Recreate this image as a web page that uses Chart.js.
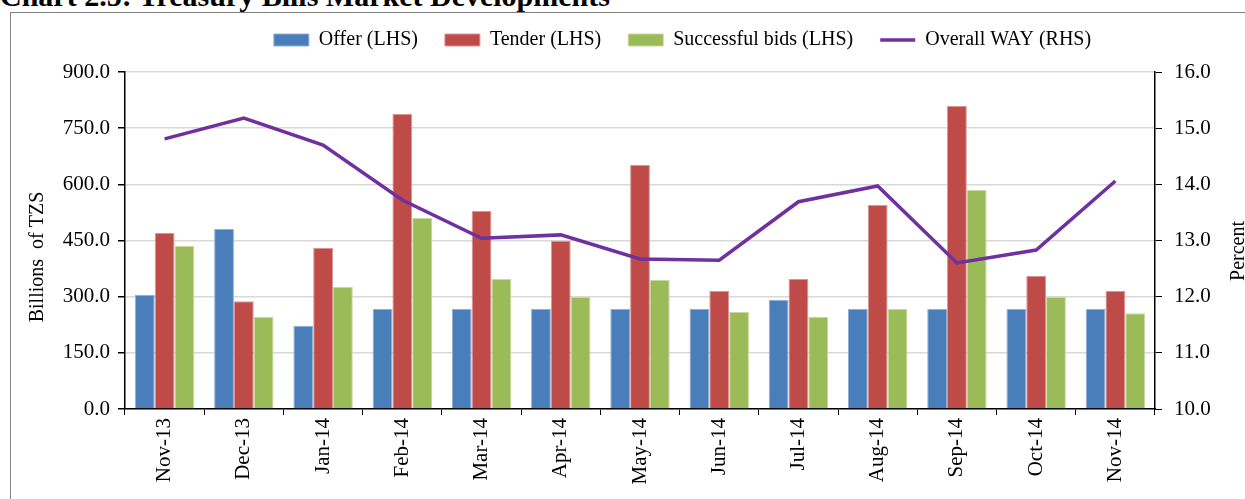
<!DOCTYPE html>
<html>
<head>
<meta charset="utf-8">
<script src="https://cdn.jsdelivr.net/npm/chart.js@4.4.1/dist/chart.umd.min.js"></script>
<style>
body { margin: 0; background: #fff; }
#wrap { position: relative; width: 1245px; height: 499px; overflow: hidden; }
#title { position: absolute; left: 0; top: -19px; font: bold 30px "Liberation Serif", serif; line-height: 30px; color: #000; white-space: nowrap; }
#frame { position: absolute; left: 10px; top: 12px; width: 1250px; height: 500px; border-left: 1.5px solid #808080; border-top: 1.5px solid #808080; }
#myChart { position: absolute; left: 0; top: 0; }
</style>
</head>
<body>
<div id="wrap">
<div id="title">Chart 2.5: Treasury Bills Market Developments</div>
<div id="frame"></div>
<canvas id="myChart" width="1245" height="499"></canvas>
</div>
<script>
/* Data */
var months = ['Nov-13', 'Dec-13', 'Jan-14', 'Feb-14', 'Mar-14', 'Apr-14', 'May-14', 'Jun-14', 'Jul-14', 'Aug-14', 'Sep-14', 'Oct-14', 'Nov-14'];
var offer = [305, 481, 222, 267, 267, 267, 267, 267, 291, 267, 267, 267, 267];
var tender = [470, 288, 430, 788, 529, 449, 652, 315, 347, 545, 809, 355, 315];
var successful = [435, 246, 326, 510, 347, 299, 345, 259, 246, 267, 585, 299, 256];
var way = [14.81, 15.18, 14.70, 13.72, 13.04, 13.10, 12.67, 12.65, 13.69, 13.97, 12.60, 12.83, 14.06];
/* End Data */

var serif = '"Liberation Serif", "Times New Roman", serif';

/* Axis titles, both read bottom to top */
var axisTitles = {
    id: 'axisTitles',
    afterDraw: function(chart) {
        var ctx = chart.ctx;
        ctx.save();
        ctx.font = '20px ' + serif;
        ctx.fillStyle = '#000';
        ctx.textAlign = 'center';
        ctx.textBaseline = 'middle';
        ctx.translate(38, 257);
        ctx.rotate(-Math.PI / 2);
        ctx.fillText('Billions  of TZS', 0, 0);
        ctx.restore();
        ctx.save();
        ctx.font = '20px ' + serif;
        ctx.fillStyle = '#000';
        ctx.textAlign = 'center';
        ctx.textBaseline = 'middle';
        ctx.translate(1239, 251);
        ctx.rotate(-Math.PI / 2);
        ctx.fillText('Percent', 0, 0);
        ctx.restore();
    }
};

/* Legend sits right of centre and a bit higher in the original */
var shiftLegend = {
    id: 'shiftLegend',
    afterLayout: function(chart) {
        chart.legend.left += 60;
        chart.legend.right += 60;
        chart.legend.top -= 12;
        chart.legend.bottom -= 12;
    }
};

const data_tb = {
    labels: months,
    datasets: [
        {
            label: 'Offer (LHS)',
            type: 'bar',
            backgroundColor: '#4a7ebb',
            borderColor: '#8fb0d8',
            borderWidth: 1,
            pointStyle: 'rect',
            yAxisID: 'y',
            order: 2,
            data: offer
        },
        {
            label: 'Tender (LHS)',
            type: 'bar',
            backgroundColor: '#be4b48',
            borderColor: '#dc9593',
            borderWidth: 1,
            pointStyle: 'rect',
            yAxisID: 'y',
            order: 2,
            data: tender
        },
        {
            label: 'Successful bids (LHS)',
            type: 'bar',
            backgroundColor: '#9bbb59',
            borderColor: '#c6d9a0',
            borderWidth: 1,
            pointStyle: 'rect',
            yAxisID: 'y',
            order: 2,
            data: successful
        },
        {
            label: 'Overall WAY (RHS)',
            type: 'line',
            borderColor: '#7030a0',
            backgroundColor: '#7030a0',
            borderWidth: 3.5,
            pointRadius: 0,
            pointStyle: 'line',
            tension: 0,
            yAxisID: 'y1',
            order: 1,
            data: way
        }
    ]
};

const config_tb = {
    data: data_tb,
    options: {
        responsive: false,
        animation: false,
        layout: { padding: { top: 15, left: 0, right: 0, bottom: 0 } },
        datasets: {
            bar: { categoryPercentage: 0.75, barPercentage: 1.0 }
        },
        plugins: {
            legend: {
                position: 'top',
                labels: {
                    usePointStyle: true,
                    pointStyleWidth: 35,
                    boxHeight: 12,
                    padding: 27,
                    color: '#000',
                    font: { family: serif, size: 20 },
                    sort: function(a, b) { return a.datasetIndex - b.datasetIndex; }
                }
            },
            tooltip: { enabled: false }
        },
        scales: {
            x: {
                grid: { display: true, drawOnChartArea: false, offset: true, tickLength: 6, tickColor: '#000' },
                border: { color: '#000', width: 1.5 },
                ticks: { color: '#000', minRotation: 90, maxRotation: 90, padding: 3, font: { family: serif, size: 21 } },
                afterFit: function(scale) { scale.height = 90; }
            },
            y: {
                position: 'left',
                min: 0,
                max: 900,
                grid: { color: '#d9d9d9', lineWidth: 1.5, tickLength: 7, tickColor: '#000' },
                border: { color: '#000', width: 1.5 },
                ticks: {
                    stepSize: 150,
                    color: '#000',
                    padding: 8,
                    font: { family: serif, size: 21 },
                    callback: function(v) { return v.toFixed(1); }
                },
                afterFit: function(scale) { scale.width = 125; }
            },
            y1: {
                position: 'right',
                min: 10,
                max: 16,
                grid: { drawOnChartArea: false, tickLength: 7, tickColor: '#000' },
                border: { color: '#000', width: 1.5 },
                ticks: {
                    stepSize: 1,
                    color: '#000',
                    padding: 12,
                    font: { family: serif, size: 21 },
                    callback: function(v) { return v.toFixed(1); }
                },
                afterFit: function(scale) { scale.width = 90; }
            }
        }
    },
    plugins: [axisTitles, shiftLegend]
};

var myChart_tb = new Chart(
    document.getElementById('myChart'),
    config_tb
);
</script>
</body>
</html>
